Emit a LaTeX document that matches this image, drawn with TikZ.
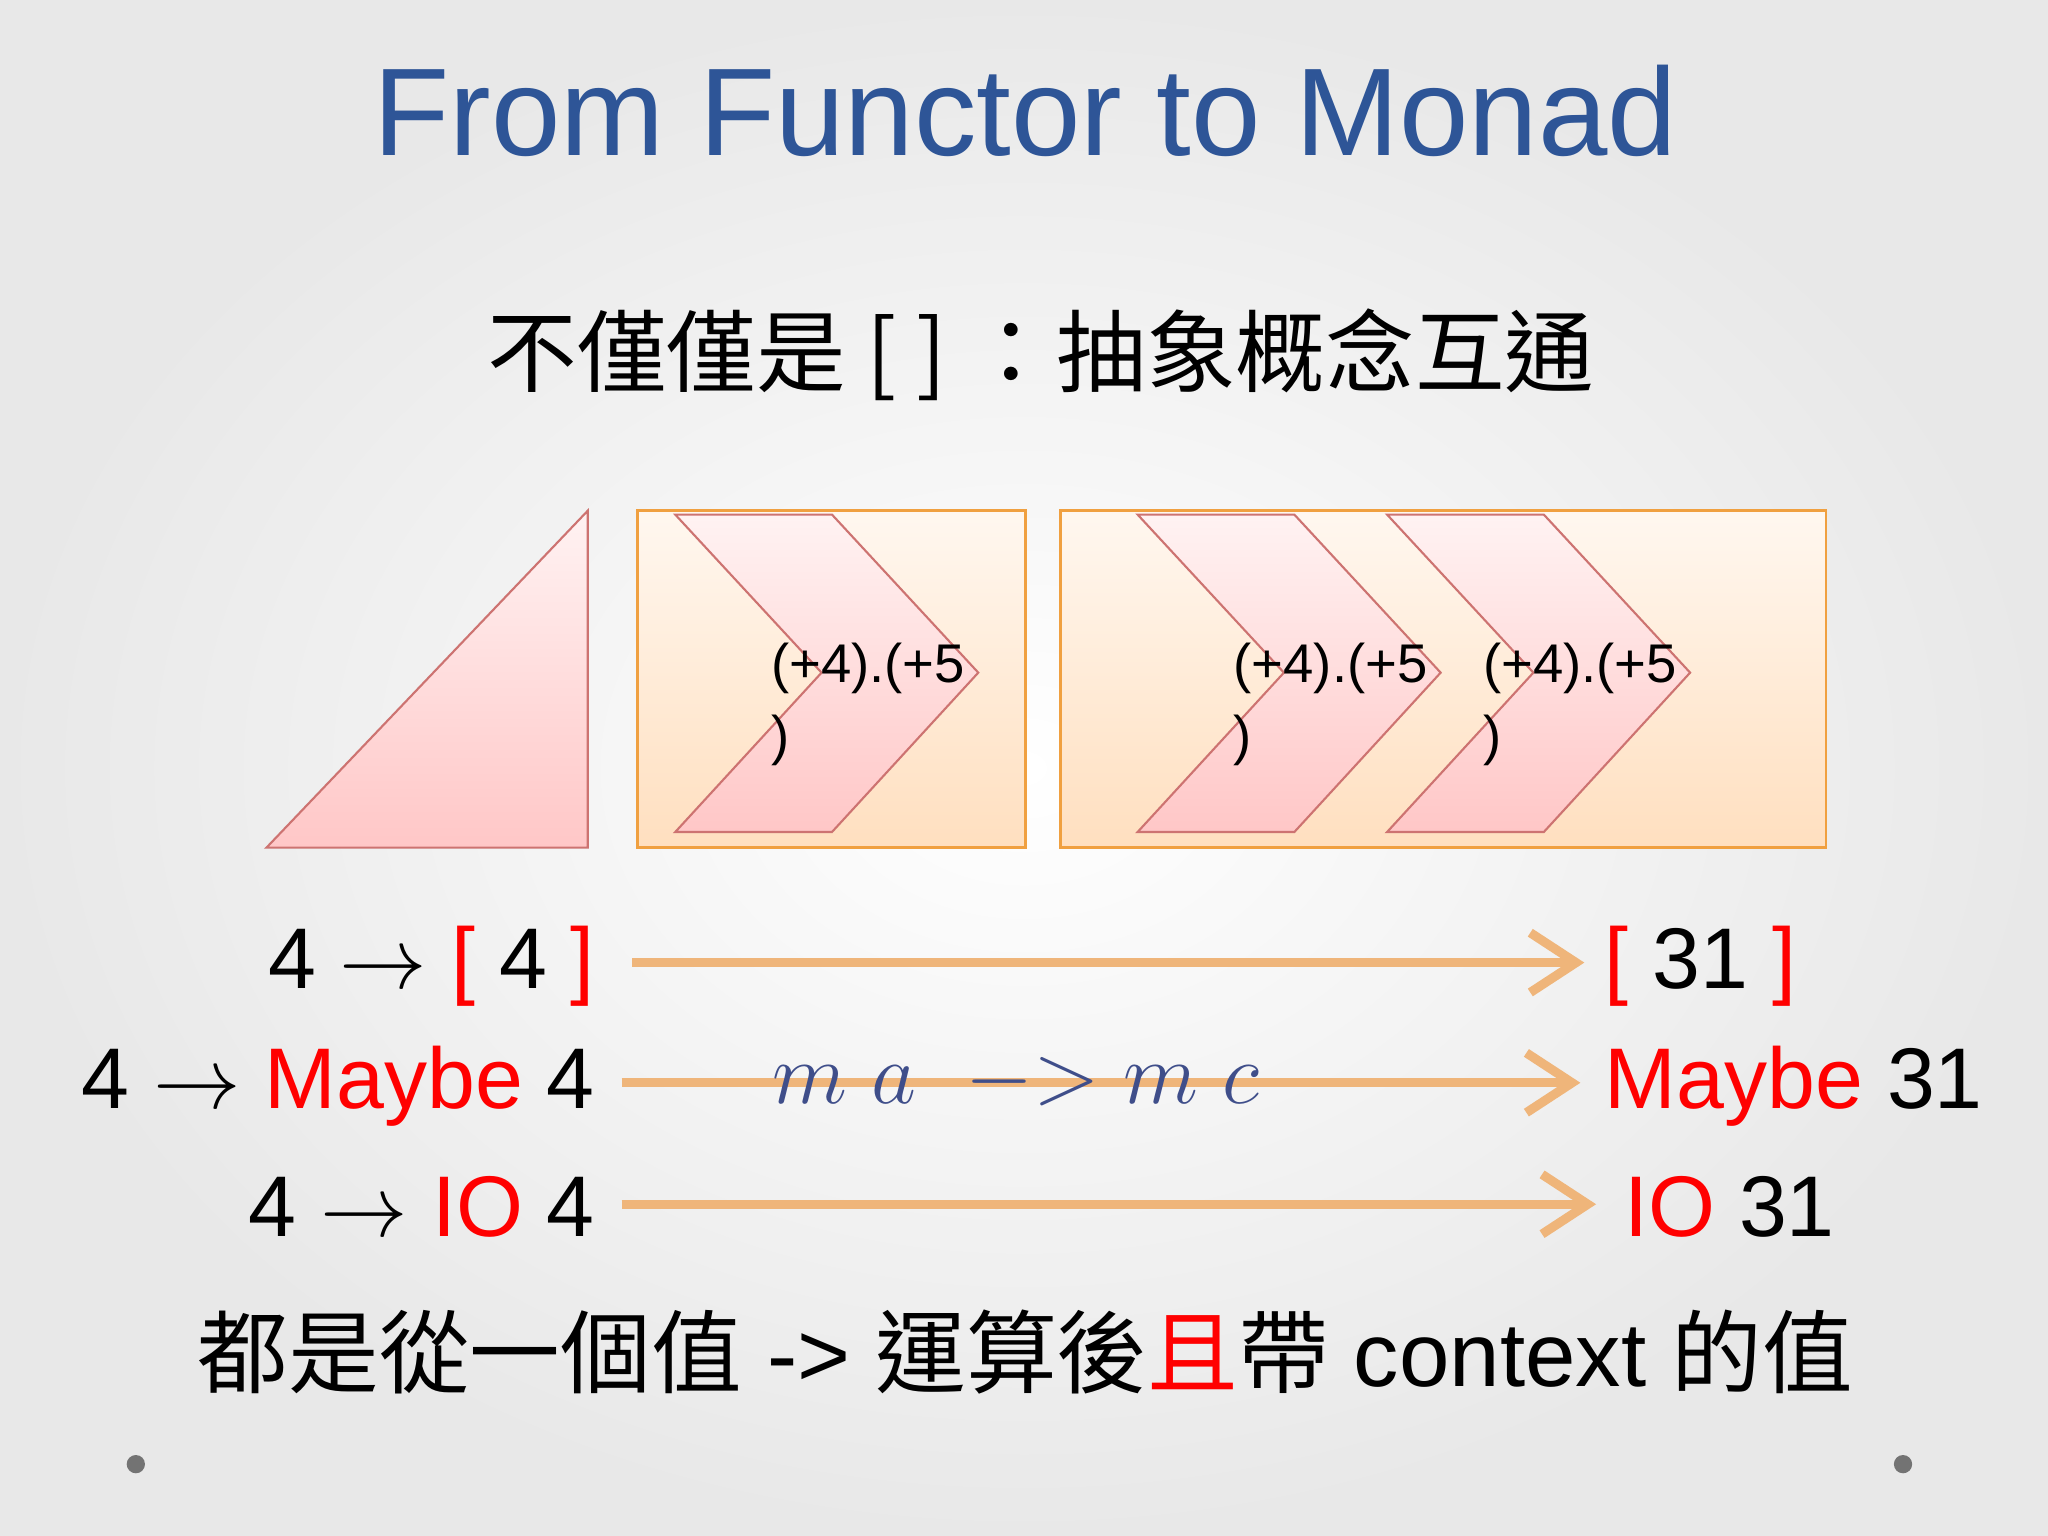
\documentclass[tikz,border=0pt]{standalone}
\usepackage{fontspec}
\setmainfont{Liberation Sans}
\newfontfamily\cjk{Noto Sans CJK TC}
\usetikzlibrary{arrows.meta,shadings}
\definecolor{titleblue}{HTML}{2E5597}
\definecolor{arr}{HTML}{EFB57A}
\definecolor{boxedge}{HTML}{F0A040}
\definecolor{chedge}{HTML}{C0504D}
\definecolor{mblue}{HTML}{3F4E8A}
\tikzset{
 pinkshape/.style={draw=chedge!80,line width=0.6pt,top color=red!5,bottom color=red!22},
 creambox/.style={draw=boxedge,line width=0.8pt,top color=orange!6!white,bottom color=orange!25!white},
 flow/.style={draw=arr,line width=2.6pt,-{Straight Barb[length=13pt,width=17pt,line width=2.6pt]}},
 rowtxt/.style={font=\fontsize{24.5}{30}\selectfont,inner sep=0pt},
 lbl/.style={font=\fontsize{15.5}{19}\selectfont,inner sep=0pt,align=left},
}
\begin{document}
\begin{tikzpicture}[x=0.013061cm,y=-0.013061cm]
\shade[inner color=white,outer color=black!9] (0,0) rectangle (1568,1176);
\useasboundingbox (0,0) rectangle (1568,1176);
\node[text=titleblue,font=\fontsize{35.5}{40}\selectfont] (title) at (785,85) {From Functor to Monad};
\node[font=\cjk\fontsize{25.5}{30}\selectfont] (sub) at (797,272) {不僅僅是 [ ] ：抽象概念互通};
% shapes
\path[pinkshape] (204,649) -- (450,391) -- (450,649) -- cycle;
\path[creambox] (488,391) rectangle (785,649);
\path[creambox] (812,391) rectangle (1398,649);
\foreach \x/\n in {517/a,871/b,1062/c}{
 \path[pinkshape] (\x,394) -- (\x+120,394) -- (\x+232,515) -- (\x+120,637) -- (\x,637) -- (\x+112,515) -- cycle;
 \node[lbl,anchor=west] (l\n) at (\x+73,512) {(+4).(+5};
 \node[lbl,anchor=west] (p\n) at (\x+73,567) {)};
}
% rows
\node[rowtxt,anchor=east] (r1) at (456,740) {4 $\rightarrow$ \textcolor{red}{[} 4 \textcolor{red}{]}};
\node[rowtxt,anchor=east] (r2) at (456,832) {4 $\rightarrow$ \textcolor{red}{Maybe} 4};
\node[rowtxt,anchor=east] (r3) at (456,924) {4 $\rightarrow$ \textcolor{red}{IO} 4};
\node[rowtxt,anchor=west] (s1) at (1228,740) {\textcolor{red}{[} 31 \textcolor{red}{]}};
\node[rowtxt,anchor=west] (s2) at (1228,832) {\textcolor{red}{Maybe} 31};
\node[rowtxt,anchor=west] (s3) at (1243,924) {\textcolor{red}{IO} 31};
\draw[flow] (484,737) -- (1213,737);
\draw[flow] (476,829) -- (1210,829);
\draw[flow] (476,922) -- (1222,922);
\node[text=mblue,font=\fontsize{27}{30}\selectfont\itshape\rmfamily] (mam) at (778,828) {$m\;a\;\;{-}{>}\;m\;c$};
\node[font=\fontsize{25.8}{30}\selectfont] (bot) at (785,1035) {{\cjk 都是從一個值} -> {\cjk 運算後\textcolor{red}{且}帶} context {\cjk 的值}};
\fill[black!55] (104,1121) circle (7) (1457,1121) circle (7);
\end{tikzpicture}
\end{document}
